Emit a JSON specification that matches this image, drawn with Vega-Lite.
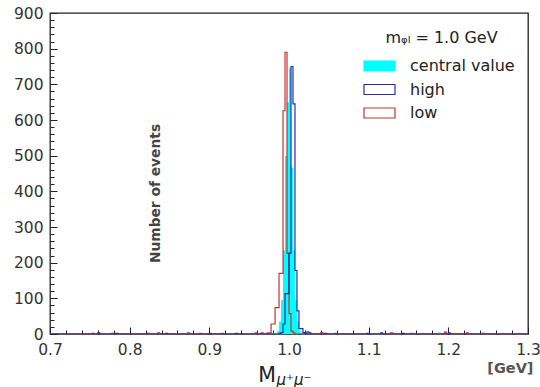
{
  "$schema": "https://vega.github.io/schema/vega-lite/v6.json",
  "width": 478,
  "height": 321,
  "autosize": {"type": "none"},
  "padding": {"left": 50, "top": 13, "right": 12, "bottom": 53},
  "background": "white",
  "datasets": {
    "hist": [
      {"s": "low", "x": 0.7, "n": 0},
      {"s": "low", "x": 0.7525, "n": 2}, {"s": "low", "x": 0.755, "n": 0},
      {"s": "low", "x": 0.7775, "n": 2}, {"s": "low", "x": 0.78, "n": 0},
      {"s": "low", "x": 0.8225, "n": 2}, {"s": "low", "x": 0.825, "n": 0},
      {"s": "low", "x": 0.835, "n": 3}, {"s": "low", "x": 0.8375, "n": 0},
      {"s": "low", "x": 0.8725, "n": 3}, {"s": "low", "x": 0.875, "n": 0},
      {"s": "low", "x": 0.8875, "n": 2}, {"s": "low", "x": 0.89, "n": 0},
      {"s": "low", "x": 0.915, "n": 2}, {"s": "low", "x": 0.9175, "n": 0},
      {"s": "low", "x": 0.9575, "n": 3}, {"s": "low", "x": 0.96, "n": 0},
      {"s": "low", "x": 0.965, "n": 3}, {"s": "low", "x": 0.9675, "n": 0},
      {"s": "low", "x": 0.9725, "n": 3}, {"s": "low", "x": 0.975, "n": 3},
      {"s": "low", "x": 0.9775, "n": 28}, {"s": "low", "x": 0.98, "n": 28},
      {"s": "low", "x": 0.9825, "n": 74}, {"s": "low", "x": 0.985, "n": 74},
      {"s": "low", "x": 0.9875, "n": 170}, {"s": "low", "x": 0.99, "n": 170},
      {"s": "low", "x": 0.9925, "n": 626}, {"s": "low", "x": 0.995, "n": 790},
      {"s": "low", "x": 0.9975, "n": 226}, {"s": "low", "x": 1.0, "n": 57},
      {"s": "low", "x": 1.0025, "n": 8}, {"s": "low", "x": 1.005, "n": 3},
      {"s": "low", "x": 1.0075, "n": 0},
      {"s": "low", "x": 1.04, "n": 4}, {"s": "low", "x": 1.0425, "n": 0},
      {"s": "low", "x": 1.0575, "n": 2}, {"s": "low", "x": 1.06, "n": 0},
      {"s": "low", "x": 1.1275, "n": 3}, {"s": "low", "x": 1.13, "n": 0},
      {"s": "low", "x": 1.1525, "n": 2}, {"s": "low", "x": 1.155, "n": 0},
      {"s": "low", "x": 1.195, "n": 5}, {"s": "low", "x": 1.1975, "n": 0},
      {"s": "low", "x": 1.2225, "n": 3}, {"s": "low", "x": 1.225, "n": 0},
      {"s": "low", "x": 1.2425, "n": 2}, {"s": "low", "x": 1.245, "n": 0},
      {"s": "low", "x": 1.3, "n": 0},

      {"s": "high", "x": 0.7, "n": 0},
      {"s": "high", "x": 0.76, "n": 3}, {"s": "high", "x": 0.7625, "n": 0},
      {"s": "high", "x": 0.7825, "n": 2}, {"s": "high", "x": 0.785, "n": 0},
      {"s": "high", "x": 0.845, "n": 2}, {"s": "high", "x": 0.8475, "n": 0},
      {"s": "high", "x": 0.9, "n": 2}, {"s": "high", "x": 0.9025, "n": 0},
      {"s": "high", "x": 0.9325, "n": 2}, {"s": "high", "x": 0.935, "n": 0},
      {"s": "high", "x": 0.9875, "n": 2}, {"s": "high", "x": 0.99, "n": 4},
      {"s": "high", "x": 0.9925, "n": 28}, {"s": "high", "x": 0.995, "n": 113},
      {"s": "high", "x": 0.9975, "n": 113}, {"s": "high", "x": 1.0, "n": 227},
      {"s": "high", "x": 1.0025, "n": 750}, {"s": "high", "x": 1.005, "n": 645},
      {"s": "high", "x": 1.0075, "n": 178}, {"s": "high", "x": 1.01, "n": 65},
      {"s": "high", "x": 1.0125, "n": 15}, {"s": "high", "x": 1.015, "n": 15},
      {"s": "high", "x": 1.0175, "n": 4}, {"s": "high", "x": 1.02, "n": 2},
      {"s": "high", "x": 1.0225, "n": 6}, {"s": "high", "x": 1.025, "n": 3},
      {"s": "high", "x": 1.0275, "n": 0},
      {"s": "high", "x": 1.045, "n": 2}, {"s": "high", "x": 1.0475, "n": 0},
      {"s": "high", "x": 1.0975, "n": 2}, {"s": "high", "x": 1.1, "n": 0},
      {"s": "high", "x": 1.115, "n": 3}, {"s": "high", "x": 1.1175, "n": 0},
      {"s": "high", "x": 1.1425, "n": 2}, {"s": "high", "x": 1.145, "n": 0},
      {"s": "high", "x": 1.2, "n": 3}, {"s": "high", "x": 1.2025, "n": 0},
      {"s": "high", "x": 1.3, "n": 0},

      {"s": "central value", "x": 0.7, "n": 0},
      {"s": "central value", "x": 0.7675, "n": 2}, {"s": "central value", "x": 0.77, "n": 0},
      {"s": "central value", "x": 0.8575, "n": 2}, {"s": "central value", "x": 0.86, "n": 0},
      {"s": "central value", "x": 0.9475, "n": 2}, {"s": "central value", "x": 0.95, "n": 0},
      {"s": "central value", "x": 0.98, "n": 2}, {"s": "central value", "x": 0.9825, "n": 3},
      {"s": "central value", "x": 0.985, "n": 8}, {"s": "central value", "x": 0.9875, "n": 35},
      {"s": "central value", "x": 0.99, "n": 95}, {"s": "central value", "x": 0.9925, "n": 235},
      {"s": "central value", "x": 0.995, "n": 499}, {"s": "central value", "x": 0.9975, "n": 650},
      {"s": "central value", "x": 1.0, "n": 746}, {"s": "central value", "x": 1.0025, "n": 467},
      {"s": "central value", "x": 1.005, "n": 235}, {"s": "central value", "x": 1.0075, "n": 95},
      {"s": "central value", "x": 1.01, "n": 35}, {"s": "central value", "x": 1.0125, "n": 8},
      {"s": "central value", "x": 1.015, "n": 3}, {"s": "central value", "x": 1.0175, "n": 0},
      {"s": "central value", "x": 1.0525, "n": 2}, {"s": "central value", "x": 1.055, "n": 0},
      {"s": "central value", "x": 1.1875, "n": 4}, {"s": "central value", "x": 1.19, "n": 0},
      {"s": "central value", "x": 1.2375, "n": 2}, {"s": "central value", "x": 1.24, "n": 0},
      {"s": "central value", "x": 1.3, "n": 0}
    ]
  },
  "data": {"name": "hist"},
  "layer": [
    {
      "transform": [{"filter": "datum.s === 'central value'"}],
      "mark": {"type": "area", "interpolate": "step-after", "opacity": 1, "clip": true, "color": "#00ffff"},
      "encoding": {
        "x": {
          "field": "x", "type": "quantitative",
          "scale": {"domain": [0.7, 1.3], "nice": false, "zero": false},
          "axis": {
            "values": [0.7, 0.8, 0.9, 1.0, 1.1, 1.2, 1.3],
            "format": ".1f", "labelFlush": false,
            "tickSize": -7, "labelPadding": 15,
            "title": "M", "titleFontSize": 20.5, "titleFontWeight": "normal", "titleColor": "#222",
            "titleX": 216.5, "titleY": 47.7, "titleAlign": "center", "titleBaseline": "alphabetic",
            "orient": "bottom"
          }
        },
        "y": {
          "field": "n", "type": "quantitative",
          "scale": {"domain": [0, 900], "nice": false},
          "axis": {
            "values": [0, 100, 200, 300, 400, 500, 600, 700, 800, 900],
            "labelFlush": false,
            "tickSize": -7, "labelPadding": 14,
            "title": "Number of events", "titleFontSize": 13.8, "titleFontWeight": "bold", "titleColor": "#444",
            "titleAngle": 270, "titleX": 105, "titleY": 180, "titleAlign": "center", "titleBaseline": "middle",
            "orient": "left"
          }
        }
      }
    },
    {
      "transform": [{"filter": "datum.s !== 'central value'"}],
      "mark": {"type": "line", "interpolate": "step-after", "strokeWidth": 1.2, "clip": true},
      "encoding": {
        "x": {
          "field": "x", "type": "quantitative",
          "axis": {
            "values": [0.72, 0.74, 0.76, 0.78, 0.82, 0.84, 0.86, 0.88, 0.92, 0.94, 0.96, 0.98, 1.02, 1.04, 1.06, 1.08, 1.12, 1.14, 1.16, 1.18, 1.22, 1.24, 1.26, 1.28],
            "labels": false, "tickSize": -4,
            "title": "μ⁺μ⁻", "titleFontSize": 15, "titleFontWeight": "normal", "titleFontStyle": "italic", "titleColor": "#222",
            "titleX": 226, "titleY": 50, "titleAlign": "left", "titleBaseline": "alphabetic",
            "orient": "bottom"
          }
        },
        "y": {
          "field": "n", "type": "quantitative",
          "axis": {
            "values": [20, 40, 60, 80, 120, 140, 160, 180, 220, 240, 260, 280, 320, 340, 360, 380, 420, 440, 460, 480, 520, 540, 560, 580, 620, 640, 660, 680, 720, 740, 760, 780, 820, 840, 860, 880],
            "labels": false, "tickSize": -4,
            "title": "[GeV]", "titleFontSize": 14.5, "titleFontWeight": "bold", "titleColor": "#555",
            "titleAngle": 0, "titleX": 483, "titleY": 359, "titleAlign": "right", "titleBaseline": "alphabetic",
            "orient": "left"
          }
        },
        "color": {
          "field": "s", "type": "nominal",
          "scale": {"domain": ["central value", "high", "low"], "range": ["#00ffff", "#2b2ba8", "#c83232"]},
          "legend": {
            "orient": "none", "legendX": 318.5, "legendY": 17, "padding": 0,
            "title": "mᵩₗ = 1.0 GeV", "titleFontSize": 16, "titleFontWeight": "normal", "titleColor": "#222",
            "titleAnchor": "middle", "titlePadding": 9,
            "labelFontSize": 16, "labelColor": "#222", "labelOffset": 19.5,
            "symbolType": "M-1.55,-0.5H1.55V0.5H-1.55Z", "symbolSize": 400, "rowPadding": 4.5,
            "symbolStrokeWidth": 1.2,
            "encode": {
              "symbols": {
                "update": {
                  "fill": {"signal": "datum.value === 'central value' ? '#00ffff' : 'transparent'"},
                  "fillOpacity": {"value": 1},
                  "strokeWidth": {"value": 1.2}
                }
              }
            }
          }
        }
      }
    }
  ],
  "resolve": {"axis": {"x": "independent", "y": "independent"}},
  "config": {
    "font": "DejaVu Sans",
    "view": {"stroke": "#222", "strokeWidth": 1.3},
    "axis": {
      "grid": false, "domain": false, "tickColor": "#222", "tickWidth": 1,
      "labelColor": "#333", "labelFontSize": 15.5, "labelFont": "DejaVu Sans", "titleFont": "DejaVu Sans"
    },
    "legend": {"labelFont": "DejaVu Sans", "titleFont": "DejaVu Sans"}
  }
}
